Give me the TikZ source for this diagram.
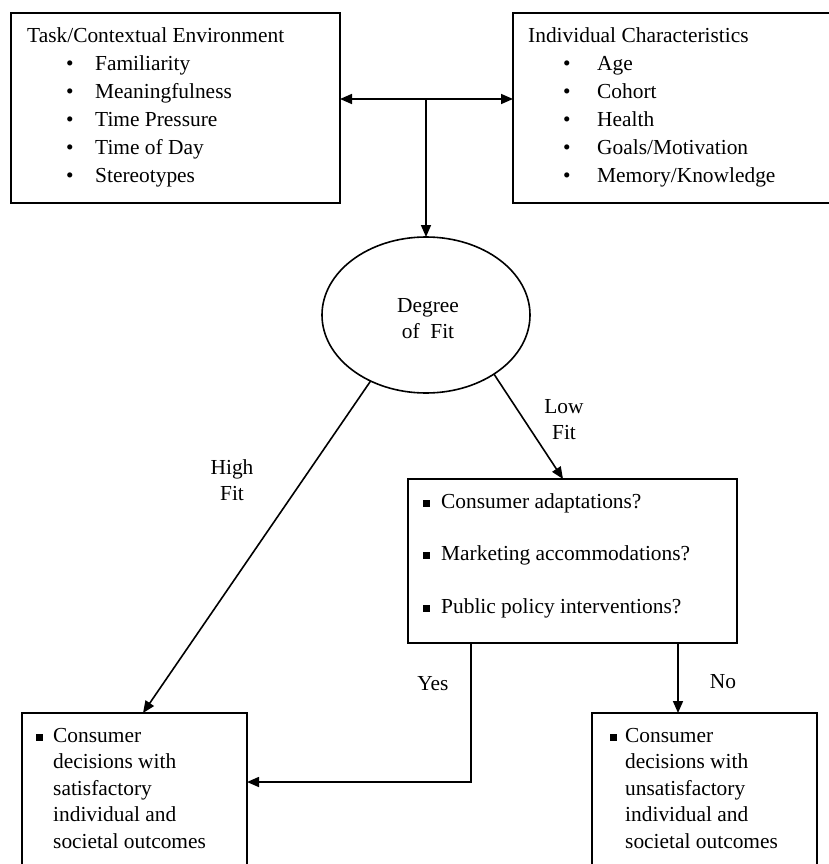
\documentclass[tikz,border=0pt]{standalone}
\usepackage{fontspec}
\setmainfont{Liberation Serif}
\usepackage{tikz}
\usetikzlibrary{shapes.geometric, arrows.meta, positioning, calc}

\newcommand{\dotitem}[3]{\hspace*{#1}\makebox[#2][l]{\textbullet}#3}
\newcommand{\sqbullet}{\raisebox{1.5pt}{\rule{7pt}{7pt}}}

\begin{document}
\begin{tikzpicture}[x=1pt, y=-1pt,
    box/.style={draw, line width=1.6pt, inner sep=0pt, outer sep=0pt, anchor=north west},
    txt/.style={inner sep=0pt, anchor=base west, font=\fontsize{21.4}{28}\selectfont},
    lbl/.style={inner sep=0pt, anchor=base, font=\fontsize{21.4}{26.5}\selectfont},
    conn/.style={line width=1.6pt, -{Triangle[length=12pt,width=10pt]}}]
                \useasboundingbox (0,0) rectangle (829,864);

                % Boxes
                \node[box, minimum width=329pt, minimum height=190pt] (ctx) at (11,13) {};
                \node[box, minimum width=330pt, minimum height=190pt] (indiv) at (513,13) {};
                \node[draw, ellipse, line width=1.6pt, inner sep=0pt, outer sep=0pt, minimum width=208pt, minimum height=156pt] (fit) at (426,315) {};
                \node[box, minimum width=329pt, minimum height=164pt] (remedy) at (408,479) {};
                \node[box, minimum width=225pt, minimum height=170pt] (satis) at (22,713) {};
                \node[box, minimum width=225pt, minimum height=170pt] (unsat) at (592,713) {};

                % Texts
                \node[txt] (ctxtxt) at (27,43) {\begin{tabular}[t]{@{}l@{}}
                    Task/Contextual Environment\\
                    \dotitem{39pt}{29pt}{Familiarity}\\
                    \dotitem{39pt}{29pt}{Meaningfulness}\\
                    \dotitem{39pt}{29pt}{Time Pressure}\\
                    \dotitem{39pt}{29pt}{Time of Day}\\
                    \dotitem{39pt}{29pt}{Stereotypes}
                \end{tabular}};
                \node[txt] (indivtxt) at (528,43) {\begin{tabular}[t]{@{}l@{}}
                    Individual Characteristics\\
                    \dotitem{35pt}{34pt}{Age}\\
                    \dotitem{35pt}{34pt}{Cohort}\\
                    \dotitem{35pt}{34pt}{Health}\\
                    \dotitem{35pt}{34pt}{Goals/Motivation}\\
                    \dotitem{35pt}{34pt}{Memory/Knowledge}
                \end{tabular}};
                \node[lbl] (fittxt) at (428,312) {\begin{tabular}[t]{@{}c@{}}Degree\\of \ Fit\end{tabular}};
                \node[txt, font=\fontsize{21.4}{52.5}\selectfont] (remedytxt) at (423,508) {\begin{tabular}[t]{@{}l@{}}
                    \sqbullet\hspace{11pt}Consumer adaptations?\\
                    \sqbullet\hspace{11pt}Marketing accommodations?\\
                    \sqbullet\hspace{11pt}Public policy interventions?
                \end{tabular}};
                \node[txt, font=\fontsize{21.4}{26.5}\selectfont] (satistxt) at (36,742) {\begin{tabular}[t]{@{}l@{\hspace{10pt}}l@{}}
                    \sqbullet & Consumer\\
                    & decisions with\\
                    & satisfactory\\
                    & individual and\\
                    & societal outcomes
                \end{tabular}};
                \node[txt, font=\fontsize{21.4}{26.5}\selectfont] (unsattxt) at (610,742) {\begin{tabular}[t]{@{}l@{\hspace{8pt}}l@{}}
                    \sqbullet & Consumer\\
                    & decisions with\\
                    & unsatisfactory\\
                    & individual and\\
                    & societal outcomes
                \end{tabular}};

                % Labels
                \node[lbl] (highlbl) at (232,474) {\begin{tabular}[t]{@{}c@{}}High\\Fit\end{tabular}};
                \node[lbl] (lowlbl) at (564,413) {\begin{tabular}[t]{@{}c@{}}Low\\Fit\end{tabular}};
                \node[lbl] (yeslbl) at (433,690) {Yes};
                \node[lbl] (nolbl) at (723,688) {No};

                % Arrows
                \coordinate (split) at (426,99);
                \draw[conn] (split) -- (split -| ctx.east);
                \draw[conn] (split) -- (split -| indiv.west);
                \draw[conn] (split) -- (fit.north);
                \draw[conn] (fit.-130) -- ($(satis.north west)+(121,0)$);
                \draw[conn] (fit.-41) -- ($(remedy.north west)+(155,0)$);
                \draw[conn] ($(remedy.south west)+(63,0)$) |- ($(satis.north east)+(0,69)$);
                \draw[conn] ($(remedy.south west)+(270,0)$) -- ($(unsat.north west)+(86,0)$);
            \end{tikzpicture}
\end{document}
